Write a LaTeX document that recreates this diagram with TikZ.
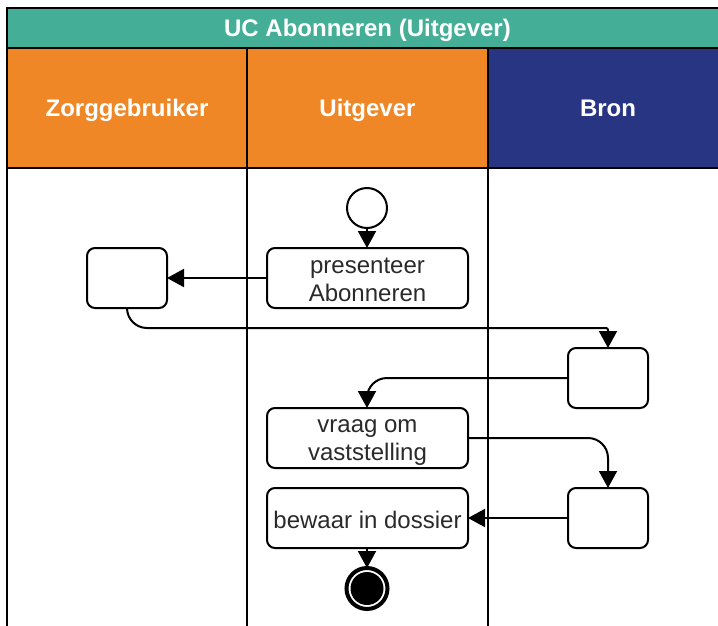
\documentclass[tikz,border=0pt]{standalone}
\usepackage{fontspec}
\setmainfont{Liberation Sans}
\usetikzlibrary{arrows.meta}
\definecolor{teal}{HTML}{44AE97}
\definecolor{orangeh}{HTML}{F08727}
\definecolor{navy}{HTML}{283583}
\definecolor{ink}{HTML}{2A2A2A}
\tikzset{
  every node/.style={outer sep=0pt,inner sep=0pt},
  bandtext/.style={text=white,font=\fontsize{24}{28}\selectfont\bfseries,text height=17.2pt,text depth=0pt},
  head/.style={draw=black,line width=2pt,minimum height=120pt,bandtext},
  titlebar/.style={draw=black,line width=2pt,fill=teal,minimum width=721pt,minimum height=40pt,bandtext},
  lane/.style={draw=black,line width=2pt},
  act/.style={draw=black,line width=2pt,fill=white,rounded corners=8pt,minimum height=60pt},
  wide/.style={act,minimum width=201pt},
  small/.style={act,minimum width=80pt},
  acttext/.style={align=center,text=ink,font=\fontsize{24}{28}\selectfont,yshift=-2pt},
  flow/.style={draw=black,line width=2pt,-{Triangle[length=17pt,width=18pt]}},
  curve/.style={flow,rounded corners=20pt}
}
\begin{document}
\begin{tikzpicture}[x=1pt,y=-1pt]
\useasboundingbox (0,0) rectangle (718,625);
\clip (0,0) rectangle (718,625);
\fill[white] (0,0) rectangle (718,625);
% title and lane headers
\node[titlebar] (title) at (367.5,28) {UC Abonneren (Uitgever)};
\node[head,fill=orangeh,minimum width=240pt] (h1) at (127,108) {Zorggebruiker};
\node[head,fill=orangeh,minimum width=241pt] (h2) at (367.5,108) {Uitgever};
\node[head,fill=navy,minimum width=240pt] (h3) at (608,108) {Bron};
% lane lines
\coordinate (b0) at (7,640);
\coordinate (b1) at (247,640);
\coordinate (b2) at (488,640);
\draw[lane] (h1.south west) -- (b0);
\draw[lane] (h1.south east) -- (b1);
\draw[lane] (h2.south east) -- (b2);
% nodes
\node[circle,draw=black,line width=2pt,fill=white,minimum size=40pt] (start) at (367,208) {};
\node[small] (z) at (127,278) {};
\node[wide] (pres) at (367.5,278) {};
\node[acttext] (prest) at (pres.center) {presenteer\\Abonneren};
\node[small] (b) at (608,378) {};
\node[wide] (vraag) at (367.5,438) {};
\node[acttext,yshift=-3pt] (vraagt) at (vraag.center) {vraag om\\vaststelling};
\node[wide] (bew) at (367.5,518) {};
\node[acttext] (bewt) at (bew.center) {bewaar in dossier};
\node[small] (c) at (608,518) {};
\node[circle,draw=black,line width=4pt,fill=white,minimum size=41pt] (stop) at (367,588.5) {};
\node[circle,fill=black,minimum size=33pt] (stopin) at (stop.center) {};
% connectors
\coordinate (mid) at (300,328);
\draw[flow] (start.south) -- (start.south |- pres.north);
\draw[flow] (pres.west) -- (z.east);
\draw[flow] (z.south) [rounded corners=20pt] |- (mid) [rounded corners=2pt] -| (b.north);
\draw[curve] (b.west) -| (vraag.north -| start);
\draw[curve] (vraag.east) -| (c.north);
\draw[flow] (c.west) -- (bew.east);
\draw[flow] (bew.south -| stop) -- (stop.north);
\end{tikzpicture}
\end{document}
